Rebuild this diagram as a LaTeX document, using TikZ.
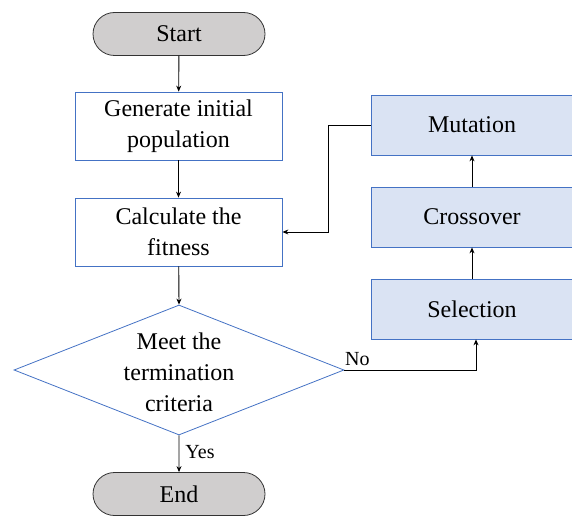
\documentclass[tikz,border=0pt]{standalone}
\usepackage{fontspec}
\setmainfont{Liberation Serif}
\usetikzlibrary{shapes.geometric,shapes.misc,arrows.meta}
\definecolor{bblue}{RGB}{68,114,196}
\definecolor{lblue}{RGB}{218,227,243}
\definecolor{tgray}{RGB}{208,206,206}
\tikzset{
  term/.style={rounded rectangle, draw=black!80, fill=tgray, line width=0.8pt, minimum width=172pt, minimum height=43pt, inner sep=0pt, font=\fontsize{24}{29}\selectfont},
  pbox/.style={rectangle, draw=bblue, line width=0.8pt, fill=white, minimum width=207pt, minimum height=68pt, inner sep=0pt, align=center, font=\fontsize{24}{31}\selectfont},
  gbox/.style={rectangle, draw=bblue, line width=0.8pt, fill=lblue, minimum width=201pt, minimum height=60pt, inner sep=0pt, font=\fontsize{24}{29}\selectfont},
  dec/.style={diamond, draw=bblue, line width=0.8pt, minimum width=330pt, minimum height=130pt, inner sep=0pt, aspect=2.54},
  arr/.style={-{Stealth[length=6pt,width=5pt]}, line width=0.9pt, draw=black},
  lbl/.style={font=\fontsize{20}{24}\selectfont, inner sep=0pt}
}
\begin{document}
\begin{tikzpicture}[x=1pt,y=-1pt]
\useasboundingbox (0,0) rectangle (572,516);
\node[term] (start) at (179,34) {Start};
\node[pbox] (gen) at (178.5,126) {Generate initial\\population};
\node[pbox] (calc) at (178.5,232) {Calculate the\\fitness};
\node[dec] (dec) at (179,370) {};
\node[align=center, font=\fontsize{24}{31}\selectfont, inner sep=0pt] (dect) at (179,372) {Meet the\\termination\\criteria};
\node[term] (end) at (179,494) {End};
\node[gbox] (mut) at (472,125) {Mutation};
\node[gbox] (cro) at (472,217) {Crossover};
\node[gbox] (sel) at (472,309) {Selection};
\coordinate (m1) at (328,125);
\coordinate (m2) at (328,232);
\coordinate (n1) at (476,370);
\draw[arr] (start) -- (gen);
\draw[arr] (gen) -- (calc);
\draw[arr] (calc) -- (dec.north);
\draw[arr] (dec.south) -- node[lbl, right=6pt, pos=0.45] (yes) {Yes} (end);
\draw[arr] (dec.east) -- (n1) -- (sel.south -| n1);
\node[lbl, anchor=south west] (no) at (345,366) {No};
\draw[arr] (sel) -- (cro);
\draw[arr] (cro) -- (mut);
\draw[arr] (mut.west) -- (m1) -- (m2) -- (calc.east);
\end{tikzpicture}
\end{document}
